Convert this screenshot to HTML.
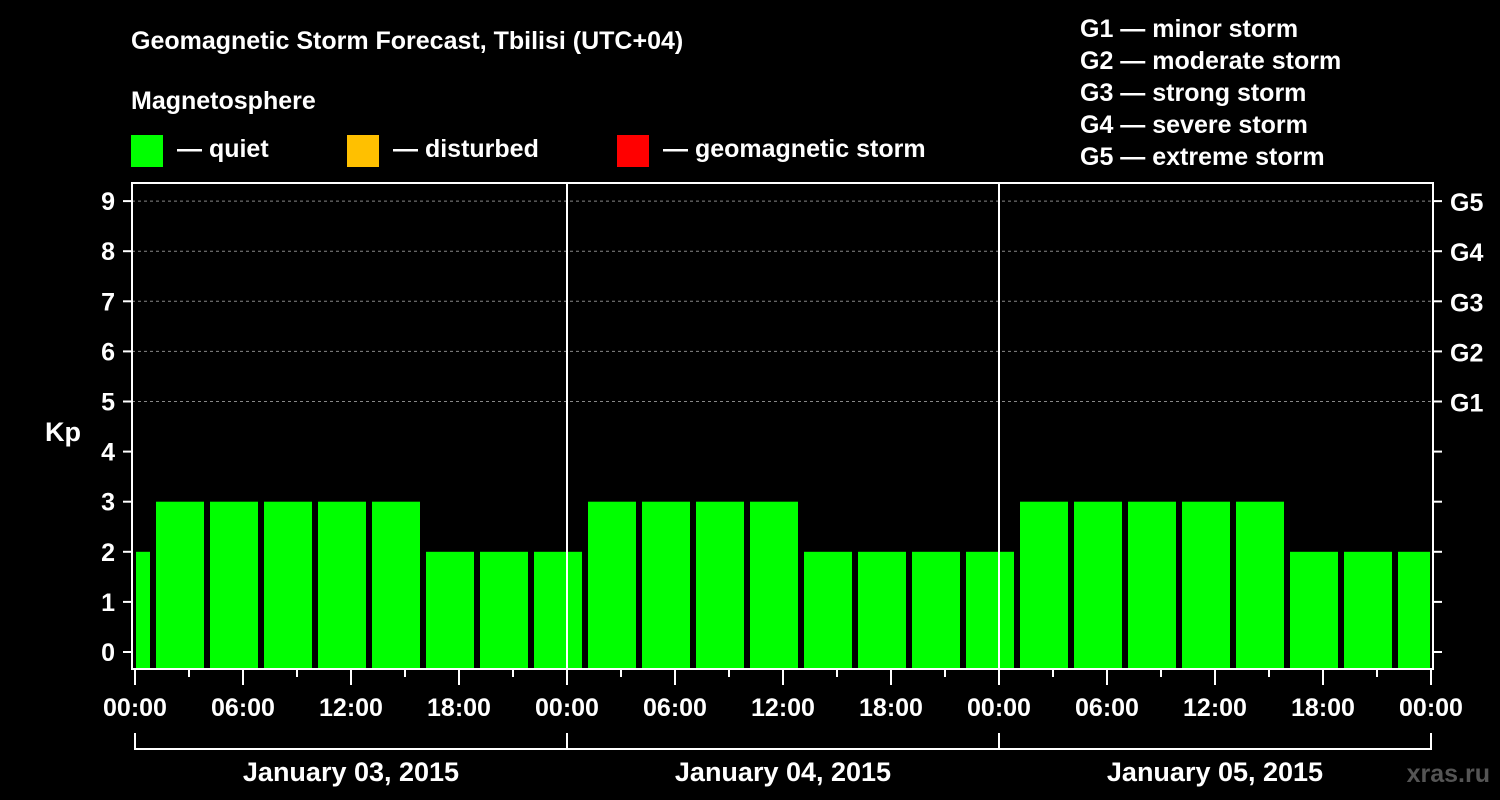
<!DOCTYPE html>
<html><head><meta charset="utf-8"><style>
body{margin:0;background:#000;}
svg{display:block;font-family:"Liberation Sans",Arial,sans-serif;font-weight:bold;}
</style></head><body>
<svg id="chart" width="1500" height="800" viewBox="0 0 1500 800">
<rect width="1500" height="800" fill="#000"/>
<text x="131" y="49" fill="#fff" font-size="25">Geomagnetic Storm Forecast, Tbilisi (UTC+04)</text>
<text x="131" y="109" fill="#fff" font-size="25">Magnetosphere</text>
<g><rect x="131" y="135" width="32" height="32" fill="#00ff00"/><text x="177" y="157" fill="#fff" font-size="25">— quiet</text></g>
<g><rect x="347" y="135" width="32" height="32" fill="#ffc000"/><text x="393" y="157" fill="#fff" font-size="25">— disturbed</text></g>
<g><rect x="617" y="135" width="32" height="32" fill="#ff0000"/><text x="663" y="157" fill="#fff" font-size="25">— geomagnetic storm</text></g>
<g fill="#fff" font-size="25">
<text x="1080" y="37">G1 — minor storm</text>
<text x="1080" y="69">G2 — moderate storm</text>
<text x="1080" y="101">G3 — strong storm</text>
<text x="1080" y="133">G4 — severe storm</text>
<text x="1080" y="165">G5 — extreme storm</text>
</g>
<text x="63" y="441" fill="#fff" font-size="27" text-anchor="middle">Kp</text>
<text x="1490" y="782" fill="#555" font-size="25" text-anchor="end">xras.ru</text>
<g id="plot"></g>
</svg>
<script>
const kpValues=[2,3,3,3,3,3,2,2,2,3,3,3,3,2,2,2,2,3,3,3,3,3,2,2,2];
const barStartHour=-2;
const yTicks=[0,1,2,3,4,5,6,7,8,9];
const gLabels=["G1","G2","G3","G4","G5"];
const gLevels=[5,6,7,8,9];
const xTickLabels=["00:00","06:00","12:00","18:00","00:00","06:00","12:00","18:00","00:00","06:00","12:00","18:00","00:00"];
const dayLabels=["January 03, 2015","January 04, 2015","January 05, 2015"];

const NS="http://www.w3.org/2000/svg";
const L=132,R=1433,T=183,B=669,X0=135,PXH=18;
const xs=h=>X0+h*PXH;
const ys=v=>652-v*50.1;
const g=document.getElementById('plot');
function mk(tag,at,parent){const e=document.createElementNS(NS,tag);for(const k in at)e.setAttribute(k,at[k]);(parent||g).appendChild(e);return e;}
// grid
gLevels.forEach(v=>{const e=mk('line',{x1:L,x2:R,y1:ys(v),y2:ys(v),stroke:'#888','stroke-dasharray':'3,3','stroke-width':1});

});
// bars
kpValues.forEach((v,i)=>{const h=barStartHour+i*3;let x1=Math.max(xs(h)+3,xs(0)+1),x2=Math.min(xs(h+3)-3,xs(72)-1);
const r=mk('rect',{x:x1,y:ys(v),width:x2-x1,height:B-1-ys(v),fill:v>=5?'#ff0000':(v>=4?'#ffc000':'#00ff00')});

});
// day dividers
[1,2].forEach(d=>{const e=mk('line',{x1:xs(d*24),x2:xs(d*24),y1:T,y2:B,stroke:'#fff','stroke-width':2});

});
// frame
const fr=mk('rect',{x:L,y:T,width:R-L,height:B-T,fill:'none',stroke:'#fff','stroke-width':2});


// y ticks
yTicks.forEach(v=>{mk('line',{x1:L-9,x2:L,y1:ys(v),y2:ys(v),stroke:'#fff','stroke-width':2});
mk('line',{x1:R,x2:R+9,y1:ys(v),y2:ys(v),stroke:'#fff','stroke-width':2});
const t=mk('text',{x:115,y:ys(v)+9,fill:'#fff','font-size':25,'text-anchor':'end'});t.textContent=v;

});
gLevels.forEach((v,i)=>{const t=mk('text',{x:1450,y:ys(v)+10,fill:'#fff','font-size':25});t.textContent=gLabels[i];

});
// x ticks
for(let h=0;h<=72;h+=3){mk('line',{x1:xs(h),x2:xs(h),y1:B,y2:B+(h%6==0?16:8),stroke:'#fff','stroke-width':2});}
xTickLabels.forEach((s,i)=>{const t=mk('text',{x:xs(i*6),y:716,fill:'#fff','font-size':25,'text-anchor':'middle'});t.textContent=s;

});
// day bracket
mk('line',{x1:xs(0),x2:xs(72),y1:749,y2:749,stroke:'#fff','stroke-width':2});
for(let d=0;d<=3;d++)mk('line',{x1:xs(d*24),x2:xs(d*24),y1:733,y2:750,stroke:'#fff','stroke-width':2});
dayLabels.forEach((s,i)=>{const t=mk('text',{x:xs(i*24+12),y:781,fill:'#fff','font-size':27,'text-anchor':'middle'});t.textContent=s;

});
</script>
</body></html>
